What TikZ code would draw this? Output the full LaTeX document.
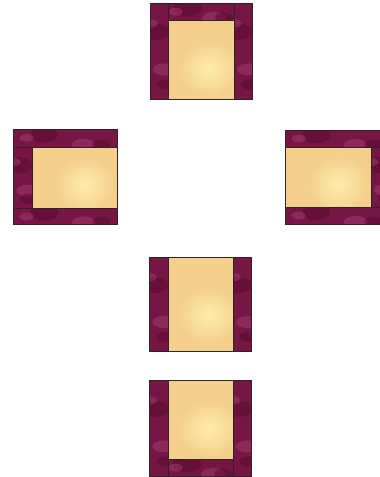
\documentclass[tikz,border=0pt]{standalone}
\usetikzlibrary{calc}
\definecolor{maroon}{RGB}{118,22,68}
\definecolor{maroonlt}{RGB}{168,62,118}
\definecolor{maroondk}{RGB}{88,12,48}
\definecolor{cream}{RGB}{244,208,140}
\definecolor{creamlt}{RGB}{253,236,172}
\definecolor{seam}{RGB}{45,35,40}
\tikzset{
  seamline/.style={draw=seam, line width=0.6pt},
  blob/.style={fill=maroonlt, fill opacity=0.45},
  darkblob/.style={fill=maroondk, fill opacity=0.5}
}
% strip: x1,y1,x2,y2
\newcommand\qstrip[4]{%
  \begin{scope}
    \clip (#1,#2) rectangle (#3,#4);
    \fill[maroon] (#1,#2) rectangle (#3,#4);
    \fill[darkblob] ($(#1,#2)!0.3!(#3,#4)$) ellipse (14 and 8);
    \fill[blob] ($(#1,#2)!0.65!(#3,#4)+(3,4)$) ellipse (12 and 6);
    \fill[blob] ($(#1,#2)!0.15!(#3,#4)+(-2,6)$) ellipse (7 and 4);
    \fill[darkblob] ($(#1,#2)!0.85!(#3,#4)$) ellipse (9 and 5);
  \end{scope}
  \draw[seamline] (#1,#2) rectangle (#3,#4);}
\newcommand\qcream[4]{%
  \begin{scope}
    \clip (#1,#2) rectangle (#3,#4);
    \fill[cream] (#1,#2) rectangle (#3,#4);
    \shade[inner color=creamlt, outer color=cream] ($(#1,#2)!0.62!(#3,#4)$) ellipse (30 and 28);
  \end{scope}
  \draw[seamline] (#1,#2) rectangle (#3,#4);}
\begin{document}
\begin{tikzpicture}[x=1pt,y=-1pt]
\useasboundingbox (0,0) rectangle (380,477);
\begin{scope}
\clip (0,0) rectangle (380,477);
% top block
\qstrip{150}{3}{168}{99}
\qstrip{234}{3}{252}{99}
\qstrip{168}{3}{234}{20}
\qcream{168}{20}{234}{99}
% left block
\qstrip{13}{129}{117}{147}
\qstrip{13}{208}{117}{224}
\qstrip{13}{147}{32}{208}
\qcream{32}{147}{117}{208}
% right block
\qstrip{285}{130}{389}{147}
\qstrip{285}{207}{389}{224}
\qstrip{371}{147}{389}{207}
\qcream{285}{147}{371}{207}
% middle block
\qstrip{149}{257}{168}{351}
\qstrip{233}{257}{251}{351}
\qcream{168}{257}{233}{351}
% bottom block
\qstrip{149}{380}{168}{476}
\qstrip{233}{380}{251}{476}
\qstrip{168}{459}{233}{476}
\qcream{168}{380}{233}{459}
\end{scope}
\end{tikzpicture}
\end{document}
